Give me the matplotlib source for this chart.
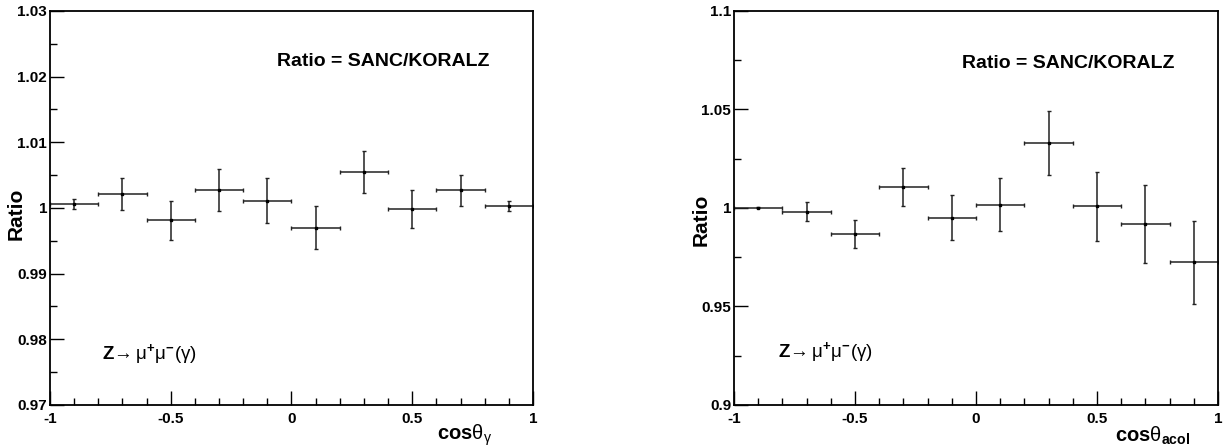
import numpy as np
import matplotlib
matplotlib.use("Agg")
import matplotlib.pyplot as plt
from matplotlib.ticker import MultipleLocator

plt.rcParams['font.family'] = ['Liberation Sans', 'DejaVu Sans']
plt.rcParams['font.weight'] = 'bold'
plt.rcParams['mathtext.fontset'] = 'custom'
plt.rcParams['mathtext.rm'] = 'Liberation Sans:weight=normal'
plt.rcParams['mathtext.it'] = 'Liberation Sans:italic:weight=normal'
plt.rcParams['mathtext.bf'] = 'Liberation Sans:weight=bold'

# bin centres (bin width 0.2)
x_centres = [-0.9, -0.7, -0.5, -0.3, -0.1, 0.1, 0.3, 0.5, 0.7, 0.9]
x_halfwidth = 0.1

# left: cos(theta_gamma)
ratio_gamma = [1.0006, 1.0021, 0.9981, 1.0027, 1.0011, 0.9970, 1.0055, 0.9998, 1.0027, 1.0003]
err_gamma = [0.0007, 0.0024, 0.0029, 0.0032, 0.0034, 0.0033, 0.0032, 0.0029, 0.0024, 0.0007]

# right: cos(theta_acol)
ratio_acol = [1.0002, 0.9981, 0.9868, 1.0107, 0.9951, 1.0017, 1.0329, 1.0008, 0.9919, 0.9724]
err_acol = [0.0003, 0.0048, 0.0070, 0.0096, 0.0113, 0.0136, 0.0162, 0.0176, 0.0198, 0.0212]

fig = plt.figure(figsize=(12.25, 4.47), dpi=100)
ax1 = fig.add_axes([0.0408, 0.094, 0.3943, 0.8814])
ax2 = fig.add_axes([0.5992, 0.094, 0.3951, 0.8814])

zlabel = r'$\mathbf{Z}\!\rightarrow\mathrm{\mu}^{\mathbf{+}}\mathrm{\mu}^{\mathbf{-}}(\mathrm{\gamma})$'


def style(ax, ylo, yhi, ymaj, yticks, ylabels):
    ax.set_xlim(-1, 1)
    ax.set_ylim(ylo, yhi)
    ax.xaxis.set_minor_locator(MultipleLocator(0.1))
    ax.yaxis.set_minor_locator(MultipleLocator(ymaj / 2))
    ax.set_xticks([-1, -0.5, 0, 0.5, 1])
    ax.set_xticklabels(['-1', '-0.5', '0', '0.5', '1'])
    ax.set_yticks(yticks)
    ax.set_yticklabels(ylabels)
    ax.tick_params(which='both', direction='in', top=False, right=False,
                   labelsize=11, width=1)
    ax.tick_params(which='major', length=10)
    ax.tick_params(which='minor', length=5)
    ax.tick_params(axis='x', pad=5)
    ax.tick_params(axis='y', pad=2)
    for s in ax.spines.values():
        s.set_linewidth(1.3)


ax1.errorbar(x_centres, ratio_gamma, xerr=x_halfwidth, yerr=err_gamma, fmt='s',
             ms=2, color='black', ecolor='#222222', elinewidth=1.1, capsize=1.5, capthick=1)
style(ax1, 0.97, 1.03, 0.01, [0.97, 0.98, 0.99, 1.0, 1.01, 1.02, 1.03],
      ['0.97', '0.98', '0.99', '1', '1.01', '1.02', '1.03'])
ax1.set_ylabel('Ratio', fontsize=15, fontweight='bold')
ax1.yaxis.set_label_coords(-0.05, 0.485)
ax1.text(0.69, 0.872, 'Ratio = SANC/KORALZ', transform=ax1.transAxes,
         fontsize=14, fontweight='bold', ha='center', va='center')
ax1.text(0.108, 0.13, zlabel, transform=ax1.transAxes, fontsize=13.5, ha='left', va='center')
ax1.text(0.915, -0.078, r'$\mathbf{cos}\mathrm{\theta}_{\mathrm{\gamma}}$', transform=ax1.transAxes,
         fontsize=14.5, ha='right', va='center')

ax2.errorbar(x_centres, ratio_acol, xerr=x_halfwidth, yerr=err_acol, fmt='s',
             ms=2, color='black', ecolor='#222222', elinewidth=1.1, capsize=1.5, capthick=1)
style(ax2, 0.9, 1.1, 0.05, [0.9, 0.95, 1.0, 1.05, 1.1],
      ['0.9', '0.95', '1', '1.05', '1.1'])
ax2.set_ylabel('Ratio', fontsize=15, fontweight='bold')
ax2.yaxis.set_label_coords(-0.0475, 0.47)
ax2.text(0.69, 0.866, 'Ratio = SANC/KORALZ', transform=ax2.transAxes,
         fontsize=14, fontweight='bold', ha='center', va='center')
ax2.text(0.091, 0.135, zlabel, transform=ax2.transAxes, fontsize=13.5, ha='left', va='center')
ax2.text(0.942, -0.078, r'$\mathbf{cos}\mathrm{\theta}_{\mathbf{acol}}$', transform=ax2.transAxes,
         fontsize=14.5, ha='right', va='center')

fig.savefig('out.png', dpi=100)
